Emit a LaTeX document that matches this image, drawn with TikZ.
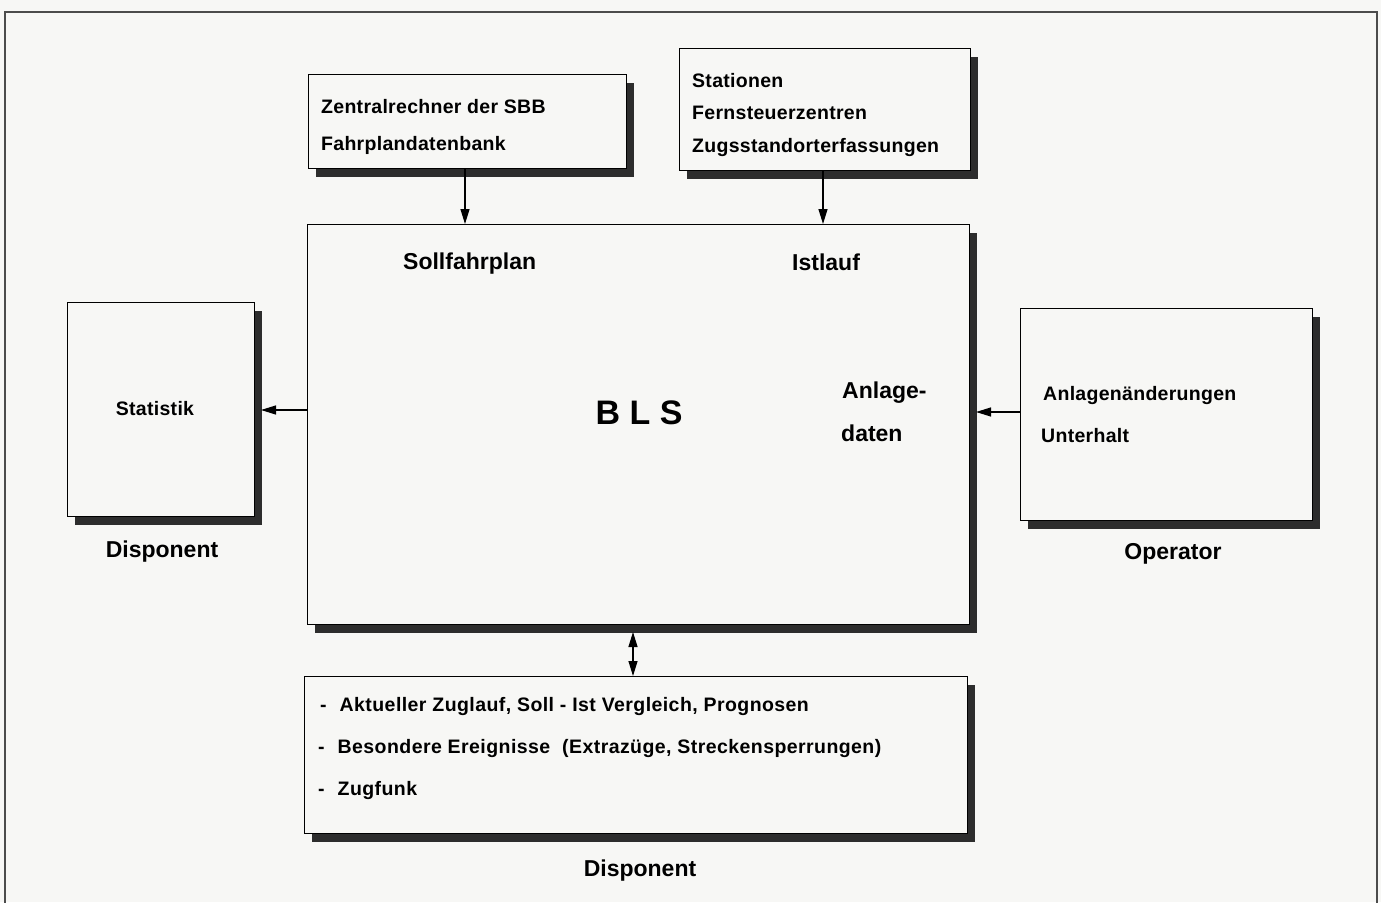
\documentclass[tikz,border=0pt]{standalone}
\usepackage{fontspec}
\setmainfont{Liberation Sans}
\newfontfamily\trkA[LetterSpace=1.5]{Liberation Sans}
\newfontfamily\trkB[LetterSpace=2.2]{Liberation Sans}
\usetikzlibrary{arrows.meta,shadows}
\definecolor{paper}{RGB}{247,247,245}
\definecolor{shade}{RGB}{45,45,45}
\begin{document}
\begin{tikzpicture}[x=1pt,y=-1pt,
  box/.style={draw=black,line width=1.2pt,fill=paper,anchor=north west,inner sep=0pt,
    drop shadow={shadow xshift=7pt,shadow yshift=-8pt,fill=shade,opacity=1}},
  bt/.style={anchor=base west,inner sep=0pt,font=\trkA\fontsize{19.5}{20}\selectfont\bfseries},
  lt/.style={anchor=base west,inner sep=0pt,font=\trkB\fontsize{19.5}{20}\selectfont\bfseries},
  lab/.style={anchor=base,inner sep=0pt,font=\fontsize{23}{24}\selectfont\bfseries},
  arr/.style={line width=1.2pt,-{Triangle[length=15pt,width=9pt]}},
  darr/.style={line width=1.2pt,{Triangle[length=15pt,width=9pt]}-{Triangle[length=15pt,width=9pt]}},
  frame/.style={line width=1.3pt,draw=black!70}]
\useasboundingbox (0,0) rectangle (1381,902);
\fill[paper] (0,0) rectangle (1381,902);
\draw[frame] (5,905) -- (5,12) -- (1377,12) -- (1377,905);

% boxes
\node[box,minimum width=318pt,minimum height=94pt] (zen) at (308,74) {};
\node[box,minimum width=291pt,minimum height=122pt] (sta) at (679,48) {};
\node[box,minimum width=662pt,minimum height=400pt] (bls) at (307,224) {};
\node[box,minimum width=187pt,minimum height=214pt] (stat) at (67,302) {};
\node[box,minimum width=292pt,minimum height=212pt] (op) at (1020,308) {};
\node[box,minimum width=663pt,minimum height=157pt] (disp) at (304,676) {};

% texts in boxes
\node[bt] (z1) at (321,113) {Zentralrechner der SBB};
\node[bt] (z2) at (321,150) {Fahrplandatenbank};
\node[bt] (s1) at (692,87) {Stationen};
\node[bt] (s2) at (692,119) {Fernsteuerzentren};
\node[bt] (s3) at (692,152) {Zugsstandorterfassungen};
\node[lab,anchor=base west] (soll) at (403,269) {Sollfahrplan};
\node[lab,anchor=base west] (ist) at (792,270) {Istlauf};
\node[lab,font=\fontsize{34}{36}\selectfont\bfseries] (blst) at (639,424) {B L S};
\node[lab,anchor=base west] (anl1) at (842,398) {Anlage-};
\node[lab,anchor=base west] (anl2) at (841,441) {daten};
\node[bt,anchor=base] (statt) at (155,415) {Statistik};
\node[lab] (disp1) at (162,557) {Disponent};
\node[bt] (op1) at (1043,400) {Anlagenänderungen};
\node[bt] (op2) at (1041,442) {Unterhalt};
\node[lab] (oplab) at (1173,559) {Operator};
\node[lt] (d1) at (320,711) {-\hspace{13pt}Aktueller Zuglauf, Soll - Ist Vergleich, Prognosen};
\node[lt] (d2) at (318,753) {-\hspace{13pt}Besondere Ereignisse\hspace{12pt}(Extrazüge, Streckensperrungen)};
\node[lt] (d3) at (318,795) {-\hspace{13pt}Zugfunk};
\node[lab] (disp2) at (640,876) {Disponent};

% connectors
\coordinate (zenx) at (465,168);
\draw[arr] (zenx) -- (zenx |- bls.north);
\coordinate (stax) at (823,170);
\draw[arr] (stax) -- (stax |- bls.north);
\coordinate (sa) at (261,410);
\draw[arr] (bls.west |- sa) -- (sa);
\coordinate (oa) at (976,412);
\draw[arr] (op.west |- oa) -- (oa);
\coordinate (da) at (633,632);
\draw[darr] (da) -- (da |- disp.north);
\end{tikzpicture}
\end{document}
